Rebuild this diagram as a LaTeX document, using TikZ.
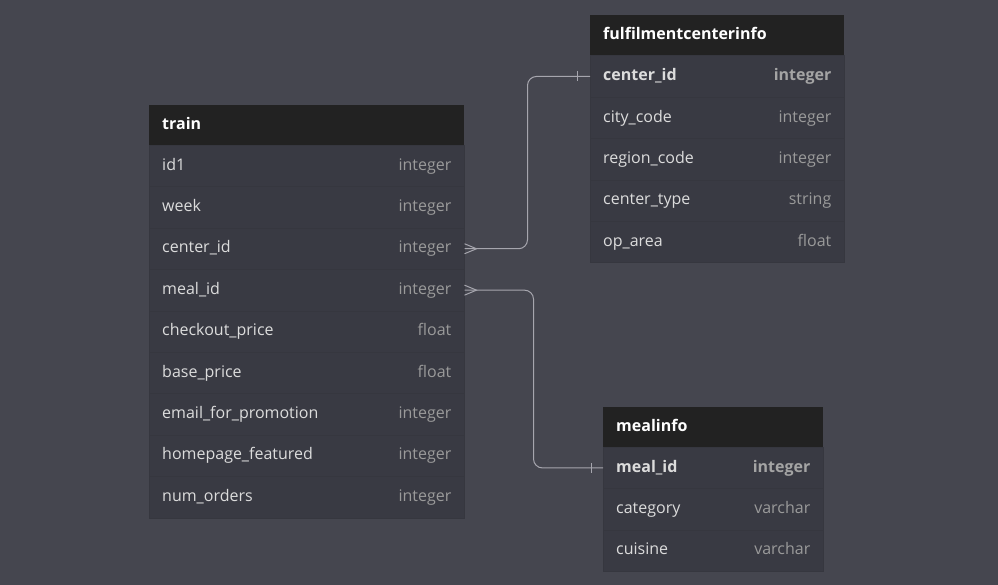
\documentclass[tikz,border=0pt]{standalone}
\usepackage{fontspec}
\setmainfont{Open Sans}
\definecolor{bgc}{HTML}{45464F}
\definecolor{rowc}{HTML}{393A43}
\definecolor{sepc}{HTML}{36373F}
\definecolor{hdrc}{HTML}{222222}
\definecolor{namec}{HTML}{DCDCDC}
\definecolor{typec}{HTML}{9A9A9A}
\definecolor{connc}{HTML}{A6A6AE}
\begin{document}
\begin{tikzpicture}[x=1pt,y=-1pt,
  hdrbox/.style={fill=hdrc, inner sep=0pt, minimum height=40.5pt, anchor=north west},
  rowbox/.style={fill=rowc, draw=sepc, line width=0.5pt, inner sep=0pt, minimum height=41.4pt, anchor=north west},
  hdrtxt/.style={font=\fontsize{16}{18}\selectfont\bfseries, text=white, inner sep=0pt, anchor=mid west, yshift=-1.5pt},
  nametxt/.style={font=\fontsize{16}{18}\selectfont, text=namec, inner sep=0pt, anchor=mid west, yshift=-1.5pt},
  typetxt/.style={font=\fontsize{16}{18}\selectfont, text=typec, inner sep=0pt, anchor=mid east, yshift=-1.5pt},
  keyname/.style={nametxt, font=\fontsize{16}{18}\selectfont\bfseries},
  keytype/.style={typetxt, font=\fontsize{16}{18}\selectfont\bfseries, text=typec!90!white},
  conn/.style={draw=connc, line width=1pt}
]
\fill[bgc] (0,0) rectangle (998,585);
\useasboundingbox (0,0) rectangle (998,585);

% ---- train ----
\node[hdrbox, minimum width=315pt] (th) at (149,105) {};
\node[hdrtxt] at ([xshift=13pt]th.west) {train};
\foreach \f/\t [count=\i from 0] in {id1/integer, week/integer, center\_id/integer, meal\_id/integer, checkout\_price/float, base\_price/float, email\_for\_promotion/integer, homepage\_featured/integer, num\_orders/integer}{
  \node[rowbox, minimum width=315pt] (t\i) at (149,{145+41.4*\i}) {};
  \node[nametxt] (tn\i) at ([xshift=13pt]t\i.west) {\f};
  \node[typetxt] (tt\i) at ([xshift=-13pt]t\i.east) {\t};
}

% ---- fulfilmentcenterinfo ----
\node[hdrbox, minimum width=254pt] (fh) at (590,15) {};
\node[hdrtxt] at ([xshift=13pt]fh.west) {fulfilmentcenterinfo};
\node[rowbox, minimum width=254pt] (f0) at (590,55.5) {};
\node[keyname] (fn0) at ([xshift=13pt]f0.west) {center\_id};
\node[keytype] (ft0) at ([xshift=-13pt]f0.east) {integer};
\foreach \f/\t [count=\i from 1] in {city\_code/integer, region\_code/integer, center\_type/string, op\_area/float}{
  \node[rowbox, minimum width=254pt] (f\i) at (590,{55.5+41.4*\i}) {};
  \node[nametxt] (fn\i) at ([xshift=13pt]f\i.west) {\f};
  \node[typetxt] (ft\i) at ([xshift=-13pt]f\i.east) {\t};
}

% ---- mealinfo ----
\node[hdrbox, minimum width=220pt] (mh) at (603,406.5) {};
\node[hdrtxt] at ([xshift=13pt]mh.west) {mealinfo};
\node[rowbox, minimum width=220pt] (m0) at (603,447) {};
\node[keyname] (mn0) at ([xshift=13pt]m0.west) {meal\_id};
\node[keytype] (mt0) at ([xshift=-13pt]m0.east) {integer};
\foreach \f/\t [count=\i from 1] in {category/varchar, cuisine/varchar}{
  \node[rowbox, minimum width=220pt] (m\i) at (603,{447+41.4*\i}) {};
  \node[nametxt] (mn\i) at ([xshift=13pt]m\i.west) {\f};
  \node[typetxt] (mt\i) at ([xshift=-13pt]m\i.east) {\t};
}

% ---- connectors ----
\draw[conn, rounded corners=9pt] (t2.east) -- ++(63,0) |- (f0.west);
\draw[conn] ([yshift=5pt]t2.east) -- ([xshift=12pt]t2.east) -- ([yshift=-5pt]t2.east);
\draw[conn] ([xshift=-13pt,yshift=5pt]f0.west) -- ([xshift=-13pt,yshift=-5pt]f0.west);

\draw[conn, rounded corners=9pt] (t3.east) -- ++(69,0) |- (m0.west);
\draw[conn] ([yshift=5pt]t3.east) -- ([xshift=12pt]t3.east) -- ([yshift=-5pt]t3.east);
\draw[conn] ([xshift=-12pt,yshift=5pt]m0.west) -- ([xshift=-12pt,yshift=-5pt]m0.west);
\end{tikzpicture}
\end{document}
